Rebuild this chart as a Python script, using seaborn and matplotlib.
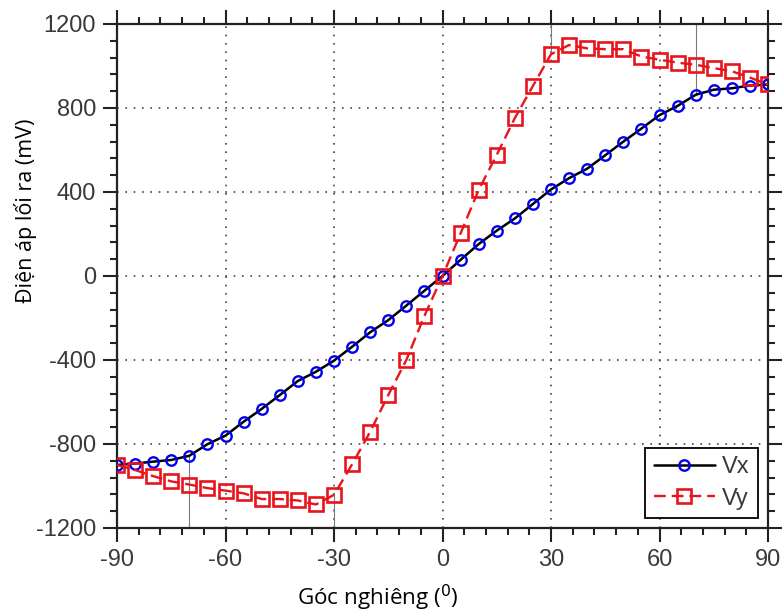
import numpy as np
import pandas as pd
import matplotlib
matplotlib.use("Agg")
import matplotlib.pyplot as plt
from matplotlib.ticker import MultipleLocator
import seaborn as sns

# Tilt angle (degrees) and measured output voltages (mV)
angles = list(range(-90, 91, 5))
vx = [-900, -893, -884, -876, -856, -801, -760, -694, -633, -567,
      -500, -456, -403, -337, -268, -210, -141, -70, 0, 77,
      152, 216, 274, 343, 412, 466, 511, 575, 640, 702,
      766, 810, 863, 887, 894, 907, 912]
vy = [-900, -924, -953, -978, -993, -1010, -1022, -1035, -1062, -1062,
      -1069, -1088, -1042, -897, -742, -567, -400, -190, 0, 203,
      410, 577, 752, 905, 1056, 1100, 1084, 1080, 1080, 1045,
      1030, 1016, 1006, 990, 975, 945, 912]

x_ticks = [-90, -60, -30, 0, 30, 60, 90]
y_ticks = [-1200, -800, -400, 0, 400, 800, 1200]

df = pd.DataFrame({"angle": angles, "Vx": vx, "Vy": vy})

sns.set_style("ticks")
plt.rcParams["font.family"] = ["Liberation Sans", "DejaVu Sans"]
plt.rcParams["axes.unicode_minus"] = False

fig = plt.figure(figsize=(7.84, 6.15), dpi=100)
ax = fig.add_axes([117 / 784, 1 - 528 / 615, 651 / 784, 504 / 615])

# thin guide lines dropped from selected points
def val(series, a):
    return series[angles.index(a)]

guide = dict(color="#7a7a7a", linewidth=0.8, zorder=1)
ax.vlines(-70, -1200, val(vx, -70), **guide)
ax.vlines(-30, -1200, val(vy, -30), **guide)
ax.vlines(30, val(vy, 30), 1200, **guide)
ax.vlines(70, val(vx, 70), 1200, **guide)

sns.lineplot(data=df, x="angle", y="Vx", ax=ax, color="black", linewidth=1.8,
             marker="o", markersize=7.5, markerfacecolor="none",
             markeredgecolor="#0000ee", markeredgewidth=1.7, label="Vx",
             zorder=3)
sns.lineplot(data=df, x="angle", y="Vy", ax=ax, color="#e8141c", linewidth=1.7,
             marker="s", markersize=9.5, markerfacecolor="none",
             markeredgecolor="#e8141c", markeredgewidth=1.9, label="Vy",
             zorder=4)
ax.lines[-1].set_dashes([5, 2.5])

ax.set_xlim(-90, 90)
ax.set_ylim(-1200, 1200)
ax.set_xticks(x_ticks)
ax.set_yticks(y_ticks)
ax.xaxis.set_minor_locator(MultipleLocator(6))
ax.yaxis.set_minor_locator(MultipleLocator(80))

ax.grid(True, which="major", linestyle=(0, (1, 4)), color="#444444", linewidth=1.2)
ax.set_axisbelow(True)

for s in ax.spines.values():
    s.set_visible(True)
    s.set_linewidth(1.6)
    s.set_color("#222222")

ax.tick_params(which="both", direction="out", top=True, right=True,
               color="#222222", width=1.5)
ax.tick_params(which="major", length=10, labelsize=17, labelcolor="#3a3a3a", pad=5)
ax.tick_params(which="minor", length=5)

label_font = ["Open Sans", "DejaVu Sans"]
ax.set_xlabel("Góc nghiêng ($^0$)", fontsize=16.2, family=label_font, color="black")
ax.set_ylabel("Điện áp lối ra (mV)", fontsize=15.5, family=label_font, color="black")
ax.xaxis.set_label_coords((378 - 117) / 651, (528 - 598) / 504)
ax.yaxis.set_label_coords((26 - 117) / 651, (528 - 211) / 504)
ax.xaxis.label.set_va("center")
ax.yaxis.label.set_va("center")

leg = ax.legend(loc="lower right",
                bbox_to_anchor=((758 - 117) / 651, (528 - 518) / 504),
                fontsize=17, frameon=True, fancybox=False,
                edgecolor="black", framealpha=1, handlelength=2.6,
                handletextpad=0.3, borderpad=0.35, labelspacing=0.4,
                borderaxespad=0)
leg.get_frame().set_linewidth(1.3)
for t in leg.get_texts():
    t.set_color("#3a3a3a")

fig.savefig("out.png", dpi=100)
